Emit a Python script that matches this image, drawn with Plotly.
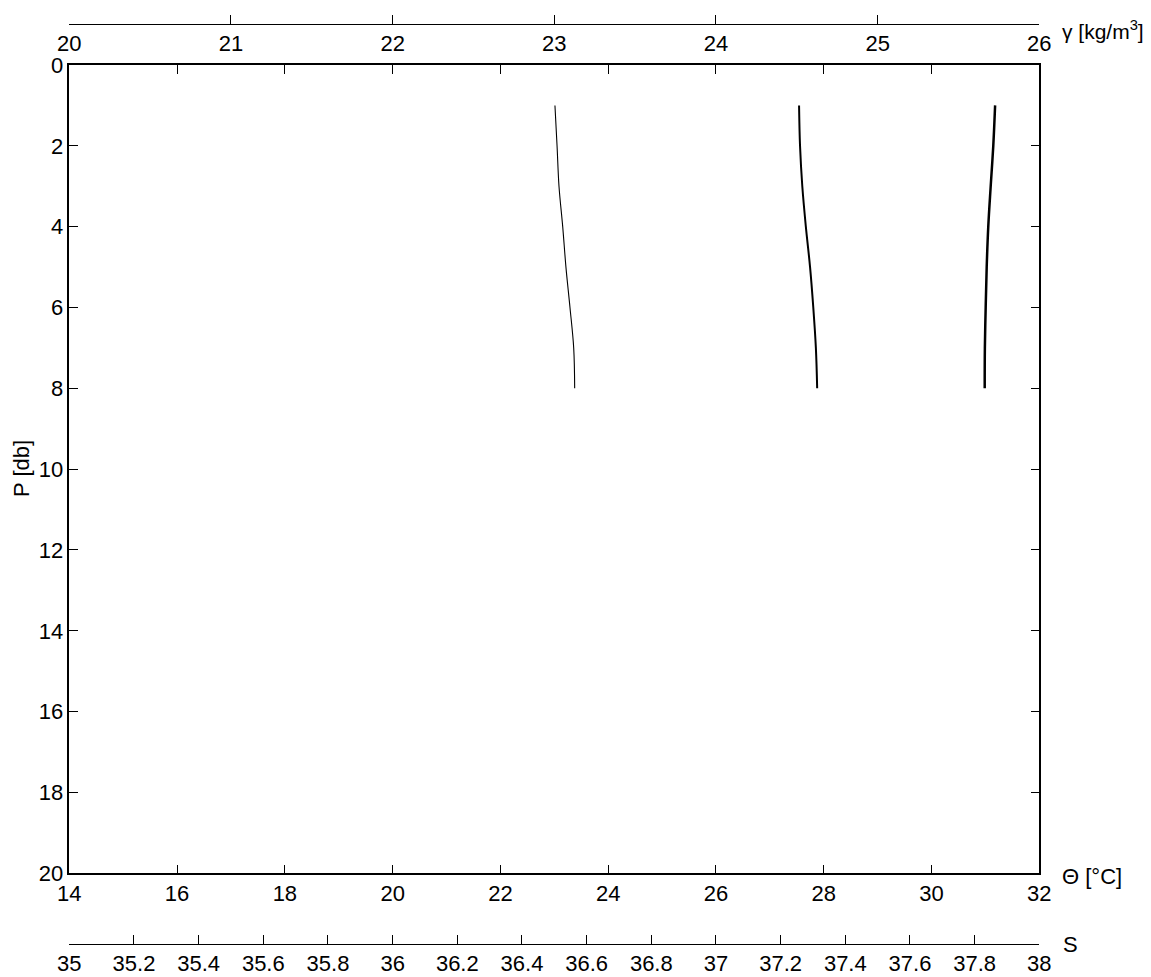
import plotly.graph_objects as go

# Pressure levels of the profile [db]
pressure = [1, 2, 3, 4, 5, 6, 7, 8]

# Neutral density gamma [kg/m^3]
gamma = [23.004, 23.017, 23.029, 23.052, 23.072, 23.097, 23.120, 23.126]
# Practical salinity S
salinity = [37.257, 37.260, 37.267, 37.278, 37.291, 37.301, 37.309, 37.313]
# Conservative temperature Theta [deg C]
theta = [31.18, 31.146, 31.098, 31.053, 31.024, 31.005, 30.99, 30.987]

# Tick values for the three horizontal scales and the pressure scale
theta_ticks = [14, 16, 18, 20, 22, 24, 26, 28, 30, 32]
gamma_ticks = [20, 21, 22, 23, 24, 25, 26]
sal_ticks = [35, 35.2, 35.4, 35.6, 35.8, 36, 36.2, 36.4, 36.6, 36.8,
             37, 37.2, 37.4, 37.6, 37.8, 38]
sal_labels = ["35", "35.2", "35.4", "35.6", "35.8", "36", "36.2", "36.4",
              "36.6", "36.8", "37", "37.2", "37.4", "37.6", "37.8", "38"]
p_ticks = [0, 2, 4, 6, 8, 10, 12, 14, 16, 18, 20]

W, H = 1151, 977
FONT = "Liberation Sans, Arial, sans-serif"
FS = 22

# Plot box in pixels
x0, x1 = 69.3, 1039.3
y_top, y_bot = 65.0, 873.3
dom_x = [x0 / W, x1 / W]
dom_y = [1 - y_bot / H, 1 - y_top / H]
gamma_pos = 1 - 24 / H
sal_pos = 1 - 944 / H

fig = go.Figure()

fig.add_trace(go.Scatter(x=gamma, y=pressure, xaxis="x2", yaxis="y",
                         mode="lines", line=dict(color="black", width=1.1, shape="spline"),
                         showlegend=False))
fig.add_trace(go.Scatter(x=salinity, y=pressure, xaxis="x3", yaxis="y",
                         mode="lines", line=dict(color="black", width=2, shape="spline"),
                         showlegend=False))
fig.add_trace(go.Scatter(x=theta, y=pressure, xaxis="x", yaxis="y",
                         mode="lines", line=dict(color="black", width=2.5, shape="spline"),
                         showlegend=False))

tickfont = dict(family=FONT, size=FS, color="black")

fig.update_layout(
    width=W, height=H,
    margin=dict(l=0, r=0, t=0, b=0, pad=0),
    paper_bgcolor="white", plot_bgcolor="white",
    font=dict(family=FONT, size=FS, color="black"),
    xaxis=dict(domain=dom_x, range=[14, 32], tickvals=theta_ticks,
               ticks="inside", ticklen=9, tickwidth=1, tickcolor="black",
               showline=True, linecolor="black", linewidth=1.5, mirror="ticks",
               showgrid=False, zeroline=False, tickfont=tickfont,
               anchor="y", automargin=False),
    yaxis=dict(domain=dom_y, range=[20, 0], tickvals=p_ticks,
               ticks="inside", ticklen=9, tickwidth=1, tickcolor="black",
               showline=True, linecolor="black", linewidth=1.5, mirror="ticks",
               showgrid=False, zeroline=False, tickfont=tickfont,
               anchor="x", automargin=False),
    xaxis2=dict(overlaying="x", anchor="free", position=gamma_pos, side="bottom",
                domain=dom_x, range=[20, 26], tickvals=gamma_ticks,
                ticks="inside", ticklen=9, tickwidth=1, tickcolor="black",
                showline=True, linecolor="black", linewidth=1,
                showgrid=False, zeroline=False, tickfont=tickfont, automargin=False),
    xaxis3=dict(overlaying="x", anchor="free", position=sal_pos, side="bottom",
                domain=dom_x, range=[35, 38], tickvals=sal_ticks, ticktext=sal_labels,
                ticks="inside", ticklen=9, tickwidth=1, tickcolor="black",
                showline=True, linecolor="black", linewidth=1,
                showgrid=False, zeroline=False, tickfont=tickfont, automargin=False),
    annotations=[
        dict(text="γ [kg/m<sup>3</sup>]", xref="paper", yref="paper",
             x=1060 / W, y=1 - 30 / H, xanchor="left", yanchor="middle",
             showarrow=False, font=dict(family=FONT, size=21)),
        dict(text="Θ [°C]", xref="paper", yref="paper",
             x=1060 / W, y=1 - 876 / H, xanchor="left", yanchor="middle",
             showarrow=False, font=dict(family=FONT, size=FS)),
        dict(text="S", xref="paper", yref="paper",
             x=1061 / W, y=1 - 944 / H, xanchor="left", yanchor="middle",
             showarrow=False, font=dict(family=FONT, size=FS)),
        dict(text="P [db]", xref="paper", yref="paper",
             x=21 / W, y=1 - 469 / H, xanchor="center", yanchor="middle",
             textangle=-90, showarrow=False, font=dict(family=FONT, size=FS)),
    ],
)

fig.write_html("out.html")
